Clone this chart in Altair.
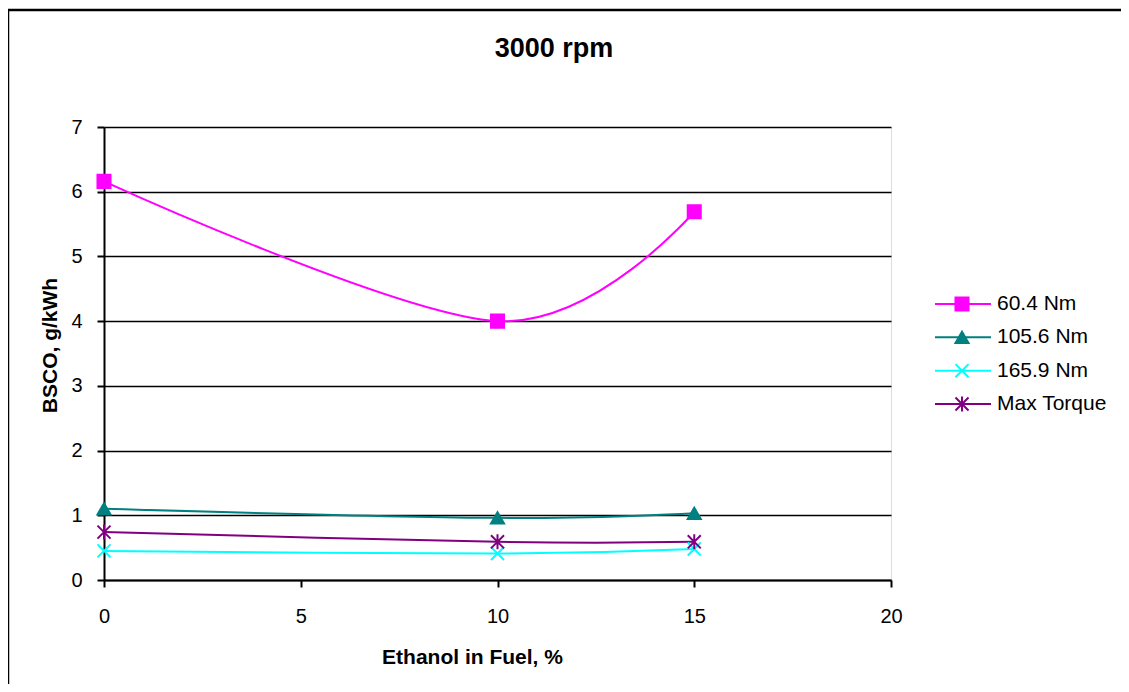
import altair as alt
import pandas as pd

# ---- data ----
ethanol = [0, 10, 15]
series_names = ["60.4 Nm", "105.6 Nm", "165.9 Nm", "Max Torque"]
bsco_604 = [6.16, 4.00, 5.69]
bsco_1056 = [1.10, 0.96, 1.03]
bsco_1659 = [0.45, 0.41, 0.48]
bsco_max = [0.74, 0.59, 0.59]
series_colors = ["#FF00FF", "#008080", "#00FFFF", "#800080"]
series_shapes = [
    "square",
    "triangle-up",
    "M-1,-1L1,1M-1,1L1,-1",
    "M-1,-1L1,1M-1,1L1,-1M0,-1.15L0,1.15",
]
x_ticks = [0, 5, 10, 15, 20]
y_ticks = [0, 1, 2, 3, 4, 5, 6, 7]

rows = []
for name, vals in zip(series_names, [bsco_604, bsco_1056, bsco_1659, bsco_max]):
    for e, v in zip(ethanol, vals):
        rows.append({"series": name, "ethanol": e, "bsco": v})
df = pd.DataFrame(rows)
legend_df = pd.DataFrame({"series": series_names})
one = pd.DataFrame({"a": [0]})

FONT = "Liberation Sans"
W, H = 787, 453

color_scale = alt.Scale(domain=series_names, range=series_colors)
shape_scale = alt.Scale(domain=series_names, range=series_shapes)

x_enc = alt.X(
    "ethanol:Q",
    scale=alt.Scale(domain=[0, 20], nice=False, zero=False),
    axis=alt.Axis(
        values=x_ticks, format="d", title="Ethanol in Fuel, %", grid=False,
        labelFontSize=20, labelFont=FONT, labelColor="black", labelPadding=19,
        labelFlush=False, labelOverlap=False,
        tickSize=7, tickColor="black", tickWidth=2,
        domainColor="black", domainWidth=2,
        titleFont=FONT, titleFontSize=21, titleFontWeight="bold", titleColor="black",
        titleX=368, titleY=83, titleBaseline="alphabetic", titleAnchor="start", titleAlign="center",
    ),
)
y_enc = alt.Y(
    "bsco:Q",
    scale=alt.Scale(domain=[0, 7], nice=False),
    axis=alt.Axis(
        values=y_ticks, format="d", title="BSCO, g/kWh", grid=True, gridColor="black", gridWidth=1.5,
        labelFontSize=20, labelFont=FONT, labelColor="black", labelPadding=15,
        labelFlush=False, labelOverlap=False,
        tickSize=7, tickColor="black", tickWidth=2,
        domainColor="black", domainWidth=2,
        titleFont=FONT, titleFontSize=21, titleFontWeight="bold", titleColor="black",
        titleX=-48, titleY=218, titleBaseline="alphabetic", titleAlign="center", titleAngle=-90,
    ),
)

lines = alt.Chart(df).mark_line(interpolate="cardinal", tension=0, strokeWidth=2).encode(
    x=x_enc, y=y_enc,
    color=alt.Color("series:N", scale=color_scale, legend=None),
    detail="series:N",
)
points = alt.Chart(df).mark_point(filled=True, strokeWidth=2, size=170, opacity=1).encode(
    x="ethanol:Q", y="bsco:Q",
    color=alt.Color("series:N", scale=color_scale, legend=None),
    stroke=alt.Stroke("series:N", scale=color_scale, legend=None),
    shape=alt.Shape("series:N", scale=shape_scale, legend=None),
)
data_layer = alt.layer(lines, points)

leg_y = alt.Y("series:N", scale=alt.Scale(type="point", domain=series_names, range=[177, 277], padding=0), axis=None)
leg_rule = alt.Chart(legend_df).mark_rule(strokeWidth=2).encode(
    x=alt.value(831), x2=alt.value(887), y=leg_y,
    color=alt.Color("series:N", scale=color_scale, legend=None),
)
leg_pt = alt.Chart(legend_df).mark_point(filled=True, strokeWidth=2, size=170, opacity=1).encode(
    x=alt.value(858), y=leg_y,
    color=alt.Color("series:N", scale=color_scale, legend=None),
    stroke=alt.Stroke("series:N", scale=color_scale, legend=None),
    shape=alt.Shape("series:N", scale=shape_scale, legend=None),
)
leg_txt = alt.Chart(legend_df).mark_text(
    align="left", baseline="middle", font=FONT, fontSize=21, color="black"
).encode(x=alt.value(893), y=leg_y, text="series:N")
legend_layer = alt.layer(leg_rule, leg_pt, leg_txt)

title = alt.Chart(one).mark_text(
    text="3000 rpm", font=FONT, fontSize=27, fontWeight="bold", color="black",
    align="center", baseline="alphabetic",
).encode(x=alt.value(450), y=alt.value(-70))

frame = alt.Chart(one).mark_rect(fill="transparent", stroke="black", strokeWidth=2.5).encode(
    x=alt.value(-96), x2=alt.value(1040), y=alt.value(-117), y2=alt.value(580),
)

chart = alt.layer(
    frame, data_layer, legend_layer, title
).resolve_scale(y="independent").properties(
    width=W, height=H,
    autosize=alt.AutoSizeParams(type="none"),
    padding={"left": 96, "top": 119, "right": 230, "bottom": 104},
).configure_view(stroke="black", strokeWidth=2).configure(background="white")

chart.save("out.html", embed_options={"renderer": "svg", "actions": False})
